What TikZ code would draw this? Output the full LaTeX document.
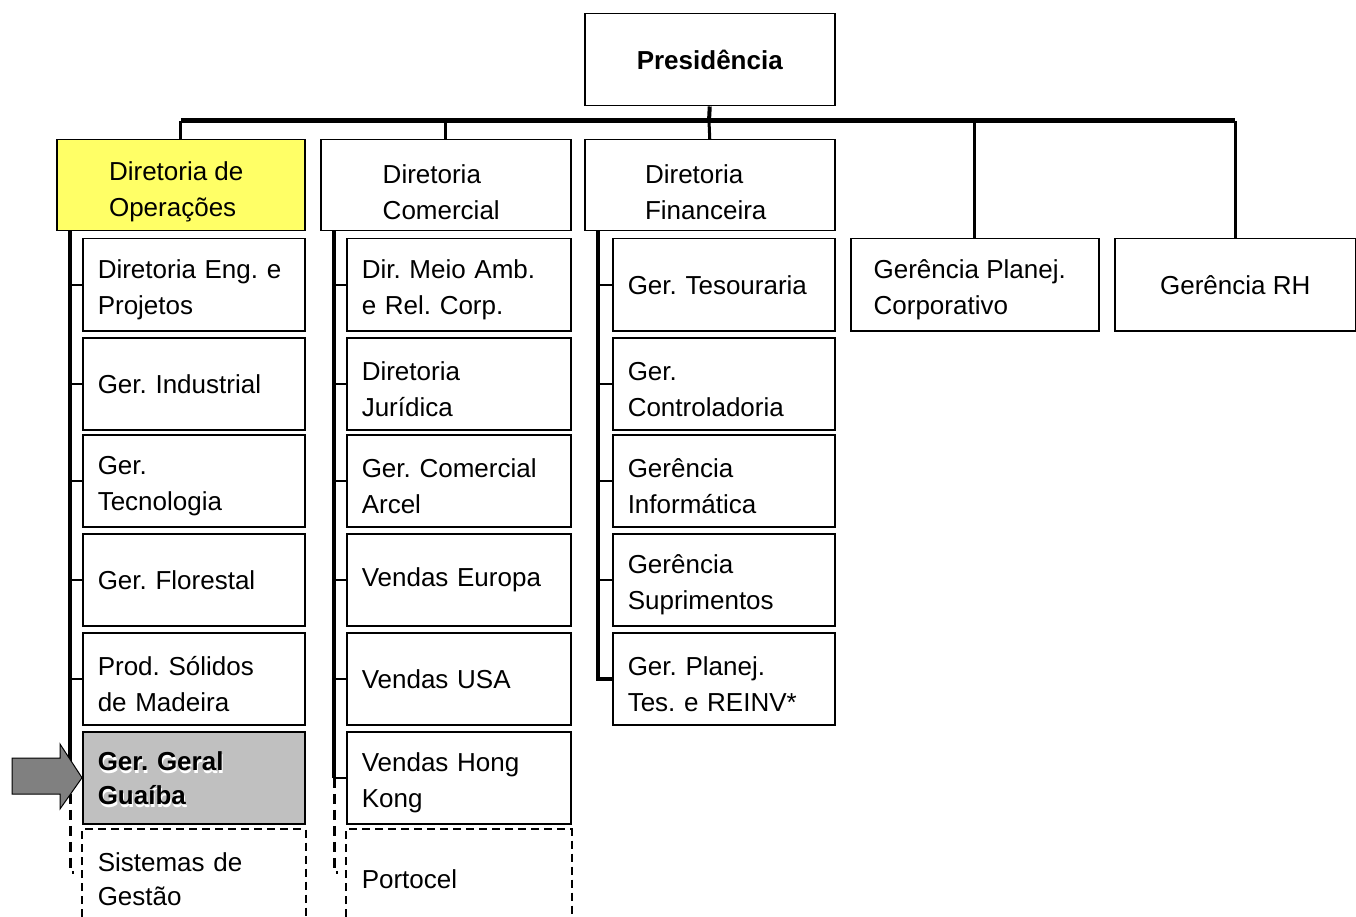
\documentclass[tikz,border=0pt]{standalone}
\usepackage{fontspec}
\setmainfont{Liberation Sans}

\definecolor{diryellow}{HTML}{FFFF66}
\definecolor{selgray}{HTML}{C0C0C0}
\definecolor{arrowgray}{HTML}{808080}

\newcommand{\upline}{\rule{0pt}{29pt}}
\newcommand{\dirline}{\rule{0pt}{33pt}}

\tikzset{
  txt/.style={font=\fontsize{26}{36}\selectfont},
  dirbox/.style={txt, draw, line width=1.5pt, minimum width=248pt, minimum height=91pt, align=left, anchor=north west, inner sep=0pt},
  unitbox/.style={txt, draw, line width=1.5pt, minimum height=92pt, inner xsep=15pt, inner ysep=0pt, text width=192pt, align=left, anchor=north west},
  newbox/.style={unitbox, draw=none},
  busline/.style={line width=5pt},
  drop/.style={line width=3pt},
  spine/.style={line width=4pt},
  tickline/.style={line width=2.5pt},
}

\begin{document}
\frenchspacing
\begin{tikzpicture}[x=1pt,y=-1pt]
\useasboundingbox (0,0) rectangle (1356,917);

% top
\node[dirbox, minimum width=250pt, minimum height=92pt, font=\fontsize{26}{36}\selectfont\bfseries] (pres) at (584,13) {Presidência};
\coordinate (bus) at (709,121);

% directorates
\node[dirbox, fill=diryellow] (dop) at (56,139) {\dirline Diretoria de\hspace*{9pt}\\Operações};
\node[dirbox, minimum width=250pt] (dcom) at (320,139) {\dirline Diretoria\\Comercial\hspace*{9pt}};
\node[dirbox, minimum width=250pt] (dfin) at (584,139) {\dirline Diretoria\\Financeira\hspace*{8pt}};
\node[dirbox, minimum height=92pt] (gpc) at (850,238) {\upline Gerência Planej.\hspace*{10pt}\\Corporativo};
\node[dirbox, minimum width=241pt, minimum height=92pt] (grh) at (1114,238) {Gerência RH};

\draw[busline] (bus -| dop.north) -- (bus -| grh.north);
\draw[spine] (pres.south) -- (bus);
\draw[drop] (bus -| dop.north) -- (dop.north);
\draw[drop] (bus -| dcom.north) -- (dcom.north);
\draw[drop] (bus) -- (dfin.north);
\draw[drop] (bus -| gpc.north) -- (gpc.north);
\draw[drop] (bus -| grh.north) -- (grh.north);

% operacoes
\node[unitbox] (eng) at (82,238) {\upline Diretoria Eng. e\\Projetos};
\node[unitbox] (ind) at (82,337) {Ger. Industrial};
\node[unitbox] (tec) at (82,434) {\upline Ger.\\Tecnologia};
\node[unitbox] (flo) at (82,533) {Ger. Florestal};
\node[unitbox] (psm) at (82,632) {\upline Prod. Sólidos\\de Madeira};
\node[unitbox, fill=selgray] (gg) at (82,731) {};
\node[txt, white, font=\fontsize{26}{34}\selectfont\bfseries, text width=192pt, align=left, inner sep=0pt] (ggshade) at ([shift={(1,3.5)}]gg.center) {Ger. Geral\\Guaíba};
\node[txt, font=\fontsize{26}{34}\selectfont\bfseries, text width=192pt, align=left, inner sep=0pt] (ggtext) at (gg.center) {Ger. Geral\\Guaíba};
\node[newbox, minimum height=98pt, font=\fontsize{26}{34}\selectfont] (sg) at (82,829) {Sistemas de\\Gestão};
\draw[dashed, line width=2pt, dash pattern=on 8pt off 5pt] (sg.south west |- 0,917) -- (sg.north west) -- (sg.north east) -- (sg.south east |- 0,917);

\draw[spine] ([xshift=14pt]dop.south west) -- ([xshift=14pt]dop.south west |- gg.center);
\draw[line width=3pt, dash pattern=on 10pt off 6pt] ([xshift=14pt]dop.south west |- gg.center) -- ([xshift=14pt]dop.south west |- 0,872) -- ++(4,0);
\foreach \u in {eng,ind,tec,flo,psm}
  \draw[tickline] (\u.west) -- ++(-13,0);

% arrow
\draw[fill=arrowgray, line width=1pt] (12,758) -- (60,758) -- (60,744) -- (gg.west) -- (60,809) -- (60,794) -- (12,794) -- cycle;

% comercial
\node[unitbox, text width=194pt] (mam) at (346,238) {\upline Dir. Meio Amb.\\e Rel. Corp.};
\node[unitbox, text width=194pt] (jur) at (346,337) {\upline Diretoria\\Jurídica};
\node[unitbox, text width=194pt] (arc) at (346,434) {\upline Ger. Comercial\\Arcel};
\node[unitbox, text width=194pt] (veu) at (346,533) {Vendas Europa};
\node[unitbox, text width=194pt] (vus) at (346,632) {Vendas USA};
\node[unitbox, text width=194pt] (vhk) at (346,731) {\upline Vendas Hong\\Kong};
\node[newbox, text width=194pt, minimum height=98pt] (ptc) at (346,829) {Portocel};
\draw[dashed, line width=2pt, dash pattern=on 8pt off 5pt] (ptc.south west |- 0,917) -- (ptc.north west) -- (ptc.north east) -- (ptc.south east |- 0,917);

\draw[spine] ([xshift=14pt]dcom.south west) -- ([xshift=14pt]dcom.south west |- vhk.center);
\draw[line width=3pt, dash pattern=on 10pt off 6pt] ([xshift=14pt]dcom.south west |- vhk.center) -- ([xshift=14pt]dcom.south west |- 0,872) -- ++(4,0);
\foreach \u in {mam,jur,arc,veu,vus,vhk}
  \draw[tickline] (\u.west) -- ++(-13,0);

% financeira
\node[unitbox] (tes) at (612,238) {Ger. Tesouraria};
\node[unitbox] (ctl) at (612,337) {\upline Ger.\\Controladoria};
\node[unitbox] (inf) at (612,434) {\upline Gerência\\Informática};
\node[unitbox] (sup) at (612,533) {\upline Gerência\\Suprimentos};
\node[unitbox] (gpt) at (612,632) {\upline Ger. Planej.\\Tes. e REINV*};

\draw[spine] ([xshift=14pt]dfin.south west) -- ([xshift=14pt]dfin.south west |- gpt.west) -- (gpt.west);
\foreach \u in {tes,ctl,inf,sup}
  \draw[tickline] (\u.west) -- ++(-13,0);
\end{tikzpicture}
\end{document}
